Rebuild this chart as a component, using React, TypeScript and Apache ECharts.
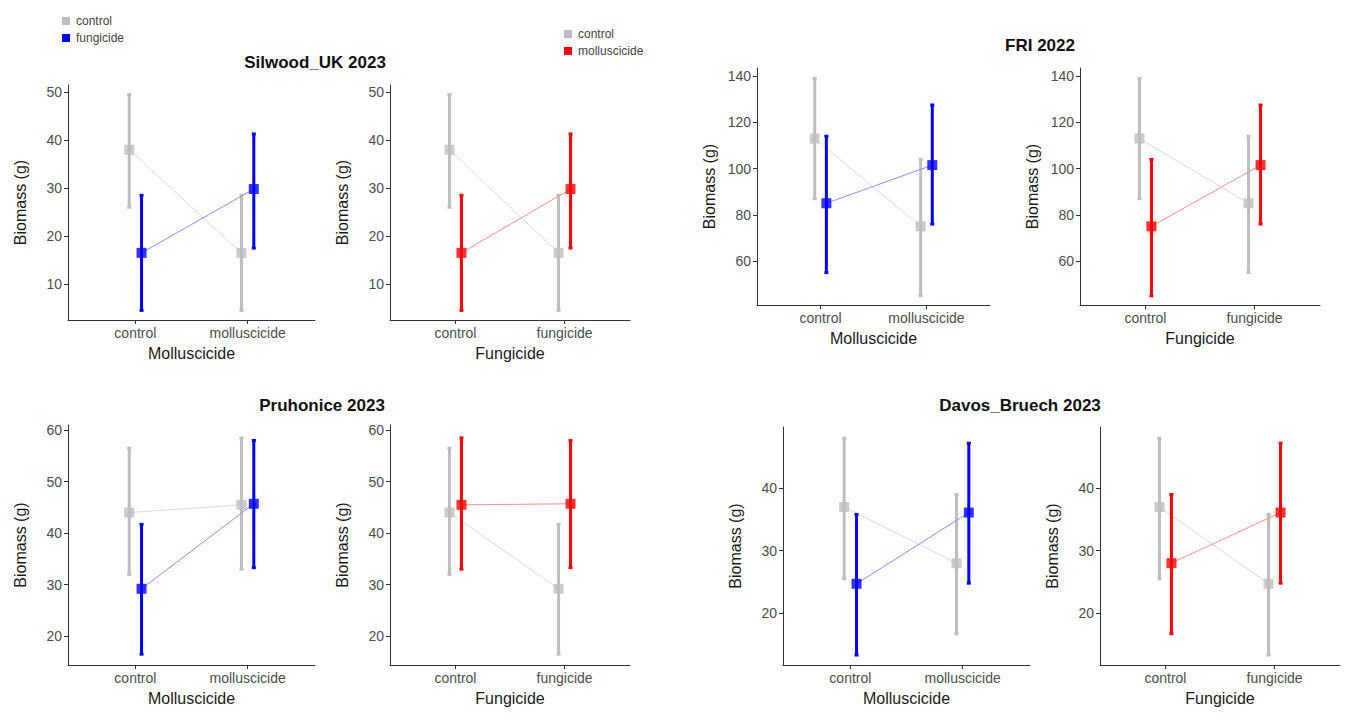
import React, { useEffect, useRef } from "react";
import * as echarts from "echarts";

// cells: [control, molluscicide only, fungicide only, both]
const sites = ["Silwood_UK 2023", "FRI 2022", "Pruhonice 2023", "Davos_Bruech 2023"];
const silwoodMean = [38, 16.5, 16.5, 29.8];
const silwoodLow = [26, 4.5, 4.5, 17.5];
const silwoodHigh = [49.5, 28.5, 28.5, 41.3];
const friMean = [113, 75, 85, 101.5];
const friLow = [87, 45, 55, 76];
const friHigh = [139, 104, 114, 127.5];
const pruMean = [44, 45.5, 29.2, 45.7];
const pruLow = [32, 33, 16.5, 33.3];
const pruHigh = [56.5, 58.5, 41.7, 58];
const davosMean = [37, 28, 24.7, 36.1];
const davosLow = [25.5, 16.7, 13.3, 24.8];
const davosHigh = [48, 39, 35.8, 47.2];

const mollCats = ["control", "molluscicide"];
const fungCats = ["control", "fungicide"];
const silwoodTicks = [10, 20, 30, 40, 50];
const friTicks = [60, 80, 100, 120, 140];
const pruTicks = [20, 30, 40, 50, 60];
const davosTicks = [20, 30, 40];

const siteData = [
  { mean: silwoodMean, low: silwoodLow, high: silwoodHigh, ticks: silwoodTicks, min: 2.5, max: 51.5 },
  { mean: friMean, low: friLow, high: friHigh, ticks: friTicks, min: 41, max: 143.5 },
  { mean: pruMean, low: pruLow, high: pruHigh, ticks: pruTicks, min: 14.4, max: 61 },
  { mean: davosMean, low: davosLow, high: davosHigh, ticks: davosTicks, min: 11.7, max: 49.8 },
];

// plot boxes [left, right, top, bottom] in px
const boxes = [
  [68, 315, 85, 320], [390, 630, 85, 320],
  [757, 990, 68, 305], [1080, 1320, 68, 305],
  [68, 315, 425, 665], [390, 630, 425, 665],
  [783, 1030, 427, 665], [1100, 1340, 427, 665],
];

const GRAY = "#bebebe";
const BLUE = "#0000ff";
const RED = "#ff0000";
const FONT = "Liberation Sans";

const App = () => {
  const chartRef = useRef(null);

  useEffect(() => {
    const chart = echarts.init(chartRef.current, null, { renderer: "svg" });
    const grid: any[] = [];
    const xAxis: any[] = [];
    const yAxis: any[] = [];
    const series: any[] = [];

    const addGroup = (gi: number, idx: number[], off: number, color: string, lineColor: string, z: number) => {
      const d = siteData[Math.floor(gi / 2)];
      const pts = idx.map((c, k) => [k + 1 + off, d.mean[c]]);
      series.push({
        type: "line", xAxisIndex: gi, yAxisIndex: gi, data: pts, symbol: "none", z,
        lineStyle: { color: lineColor, width: 1 },
      });
      series.push({
        type: "custom", xAxisIndex: gi, yAxisIndex: gi, z: z + 1,
        data: idx.map((c, k) => [k + 1 + off, d.low[c], d.high[c]]),
        renderItem: (params: any, api: any) => {
          const a = api.coord([api.value(0), api.value(1)]);
          const b = api.coord([api.value(0), api.value(2)]);
          const st = { stroke: color, lineWidth: 3 };
          return {
            type: "group",
            children: [
              { type: "line", shape: { x1: a[0], y1: a[1], x2: b[0], y2: b[1] }, style: st },
              { type: "line", shape: { x1: a[0] - 2, y1: a[1], x2: a[0] + 2, y2: a[1] }, style: st },
              { type: "line", shape: { x1: b[0] - 2, y1: b[1], x2: b[0] + 2, y2: b[1] }, style: st },
            ],
          };
        },
      });
      series.push({
        type: "scatter", xAxisIndex: gi, yAxisIndex: gi, data: pts, z: z + 2,
        symbol: "rect", symbolSize: 10, itemStyle: { color },
      });
    };

    boxes.forEach((b, gi) => {
      const d = siteData[Math.floor(gi / 2)];
      const isMoll = gi % 2 === 0;
      const cats = isMoll ? mollCats : fungCats;
      grid.push({ left: b[0], width: b[1] - b[0], top: b[2], height: b[3] - b[2] });
      xAxis.push({
        type: "value", gridIndex: gi, min: 0.4, max: 2.6,
        name: isMoll ? "Molluscicide" : "Fungicide", nameLocation: "middle", nameGap: 25,
        nameTextStyle: { fontFamily: FONT, fontSize: 16, color: "#1a1a1a", fontWeight: 500 },
        axisLine: { lineStyle: { color: "#333", width: 1 } },
        axisTick: { customValues: [1, 2], length: 4, lineStyle: { color: "#333" } },
        axisLabel: { customValues: [1, 2], formatter: (v: number) => cats[Math.round(v) - 1], fontFamily: FONT, fontSize: 14, color: "#4d4d4d", margin: 6 },
        splitLine: { show: false },
      });
      yAxis.push({
        type: "value", gridIndex: gi, min: d.min, max: d.max,
        name: "Biomass (g)", nameLocation: "middle", nameGap: 40,
        nameTextStyle: { fontFamily: FONT, fontSize: 16, color: "#1a1a1a" },
        axisLine: { show: true, lineStyle: { color: "#333", width: 1 } },
        axisTick: { show: true, customValues: d.ticks, length: 4, lineStyle: { color: "#333" } },
        axisLabel: { customValues: d.ticks, fontFamily: FONT, fontSize: 14, color: "#4d4d4d", margin: 6 },
        splitLine: { show: false },
      });
      const m = isMoll ? [0, 1] : [0, 2];
      const t = isMoll ? [2, 3] : [1, 3];
      addGroup(gi, m, -0.055, GRAY, "#d9d9d9", 2);
      addGroup(gi, t, 0.055, isMoll ? BLUE : RED, isMoll ? "#8c8cff" : "#ff8c8c", 5);
    });

    const titleStyle = { fontFamily: FONT, fontSize: 17, fontWeight: "bold", fill: "#111" };
    const titlePos = [[315, 62], [1040, 45], [322, 405], [1020, 405]];
    const graphic: any[] = titlePos.map((p, i) => ({
      type: "text", x: p[0], y: p[1], style: { ...titleStyle, text: sites[i], align: "center", verticalAlign: "middle" },
    }));
    const legend = (x: number, y: number, names: string[], colors: string[]) => {
      names.forEach((n, i) => {
        graphic.push({ type: "rect", x: x - 4, y: y + i * 17 - 4, shape: { width: 8, height: 8 }, style: { fill: colors[i] } });
        graphic.push({ type: "text", x: x + 10, y: y + i * 17, style: { text: n, fontFamily: FONT, fontSize: 12, fill: "#444", verticalAlign: "middle" } });
      });
    };
    legend(66, 21, ["control", "fungicide"], [GRAY, BLUE]);
    legend(568, 34, ["control", "molluscicide"], [GRAY, RED]);

    chart.setOption({ animation: false, grid, xAxis, yAxis, series, graphic });
    return () => {
      chart.dispose();
    };
  }, []);

  return <div ref={chartRef} style={{ position: "fixed", left: 0, top: 0, width: "1358px", height: "720px", background: "#fff" }}></div>;
};

export default App;
